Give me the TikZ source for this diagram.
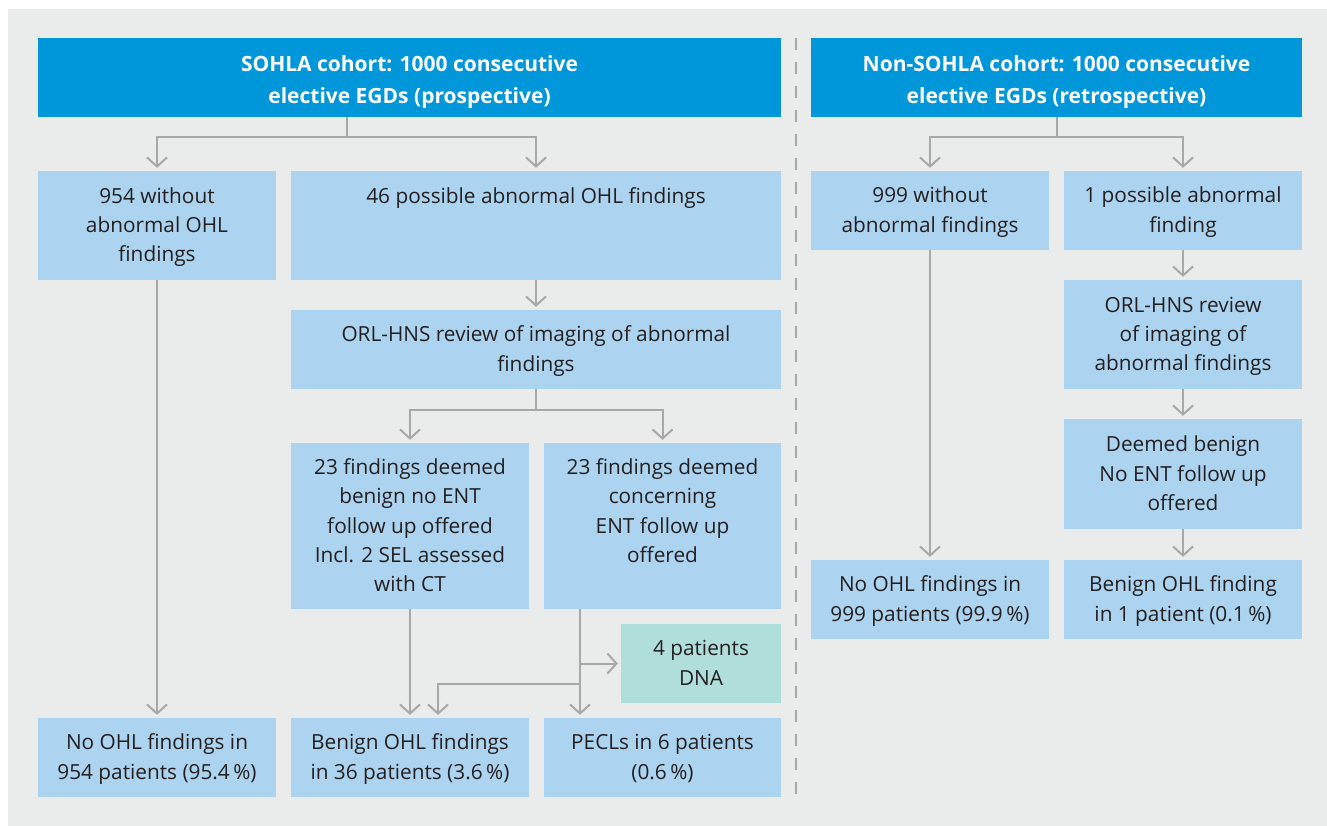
\documentclass[tikz,border=0pt]{standalone}
\usepackage{fontspec}
\setmainfont{Open Sans}
\usetikzlibrary{arrows.meta,calc}
\definecolor{bg}{RGB}{234,235,235}
\definecolor{hdr}{RGB}{0,150,218}
\definecolor{lb}{RGB}{172,211,239}
\definecolor{teal}{RGB}{176,222,219}
\definecolor{ln}{RGB}{168,168,168}
\definecolor{txt}{RGB}{35,31,32}
\newcommand\bs{\rule[-7pt]{0pt}{28pt}}
\newcommand\hs{\rule[-5pt]{0pt}{30pt}}
\begin{document}
\begin{tikzpicture}[x=1pt,y=-1pt,
  box/.style={fill=lb,inner sep=0pt,align=center,text=txt,font=\fontsize{20.8}{29.3}\selectfont},
  tbox/.style={box,fill=teal},
  hbox/.style={fill=hdr,inner sep=0pt,align=center,text=white,font=\bfseries\fontsize{21}{32}\selectfont},
  conn/.style={draw=ln,line width=2pt},
  arr/.style={conn,-{Straight Barb[length=9pt,width=20pt,line width=2pt]},shorten >=3pt}]
\useasboundingbox (0,0) rectangle (1327,826);
\fill[bg] (8,9) rectangle (1327,826);
\draw[ln,line width=2.6pt,dash pattern=on 12pt off 12pt] (796,38) -- (796,797);
% headers
\node[hbox,minimum width=743pt,minimum height=79pt] (hdrL) at (409.5,77.5) {\hs SOHLA cohort: 1000 consecutive\\elective EGDs (prospective)\hs};
\node[hbox,minimum width=491pt,minimum height=79pt] (hdrR) at (1056.5,77.5) {\hs Non-SOHLA cohort: 1000 consecutive\\elective EGDs (retrospective)\hs};
% left column
\node[box,minimum width=238pt,minimum height=109pt] (A) at (157,225.5) {\bs 954 without\\abnormal OHL\\findings\bs};
\node[box,minimum width=490pt,minimum height=109pt] (B) at (536,225.5) {\bs 46 possible abnormal OHL findings\\~\\~\bs};
\node[box,minimum width=490pt,minimum height=79pt] (C) at (536,349.5) {\bs ORL-HNS review of imaging of abnormal\\findings\bs};
\node[box,minimum width=238pt,minimum height=166pt] (D) at (410,526) {\bs 23 findings deemed\\benign no ENT\\follow up offered\\Incl. 2 SEL assessed\\with CT\bs};
\node[box,minimum width=237pt,minimum height=166pt] (E) at (662.5,526) {\bs 23 findings deemed\\concerning\\ENT follow up\\offered\\~\bs};
\node[tbox,minimum width=160pt,minimum height=79pt] (F) at (701,663.5) {\bs 4 patients\\DNA\bs};
\node[box,minimum width=238pt,minimum height=79pt] (G) at (157,757.5) {\bs No OHL findings in\\954 patients (95.4\,\%)\bs};
\node[box,minimum width=238pt,minimum height=79pt] (H) at (410,757.5) {\bs Benign OHL findings\\in 36 patients (3.6\,\%)\bs};
\node[box,minimum width=237pt,minimum height=79pt] (I) at (662.5,757.5) {\bs PECLs in 6 patients\\(0.6\,\%)\bs};
% right column
\node[box,minimum width=238pt,minimum height=79pt] (J) at (930,210.5) {\bs 999 without\\abnormal findings\bs};
\node[box,minimum width=238pt,minimum height=79pt] (K) at (1183,210.5) {\bs 1 possible abnormal\\finding\bs};
\node[box,minimum width=238pt,minimum height=109pt] (L) at (1183,334.5) {\bs ORL-HNS review\\of imaging of\\abnormal findings\bs};
\node[box,minimum width=238pt,minimum height=110pt] (M) at (1183,474) {\bs Deemed benign\\No ENT follow up\\offered\bs};
\node[box,minimum width=238pt,minimum height=79pt] (N) at (930,599.5) {\bs No OHL findings in\\999 patients (99.9\,\%)\bs};
\node[box,minimum width=238pt,minimum height=79pt] (O) at (1183,599.5) {\bs Benign OHL finding\\in 1 patient (0.1\,\%)\bs};
% junction coordinates
\coordinate (jL) at (346.5,137);
\coordinate (jR) at (1056.5,137);
\coordinate (jC) at (536,410);
\coordinate (ex) at (580,684);
\coordinate (hx) at (438,684);
% connectors left
\draw[conn] (hdrL.south -| jL) -- (jL);
\draw[arr] (jL) -| (A);
\draw[arr] (jL) -| (B);
\draw[arr] (B) -- (C);
\draw[conn] (C.south -| jC) -- (jC);
\draw[arr] (jC) -| (D);
\draw[arr] (jC) -| (E);
\draw[arr] (A) -- (G);
\draw[arr] (D) -- (H);
\draw[arr] (E.south -| ex) -- (I.north -| ex);
\draw[arr] (F.west -| ex) -- (F.west);
\draw[arr] (ex) -- (hx) -- (H.north -| hx);
% connectors right
\draw[conn] (hdrR.south -| jR) -- (jR);
\draw[arr] (jR) -| (J);
\draw[arr] (jR) -| (K);
\draw[arr] (K) -- (L);
\draw[arr] (L) -- (M);
\draw[arr] (M) -- (O);
\draw[arr] (J) -- (N);
\end{tikzpicture}
\end{document}
